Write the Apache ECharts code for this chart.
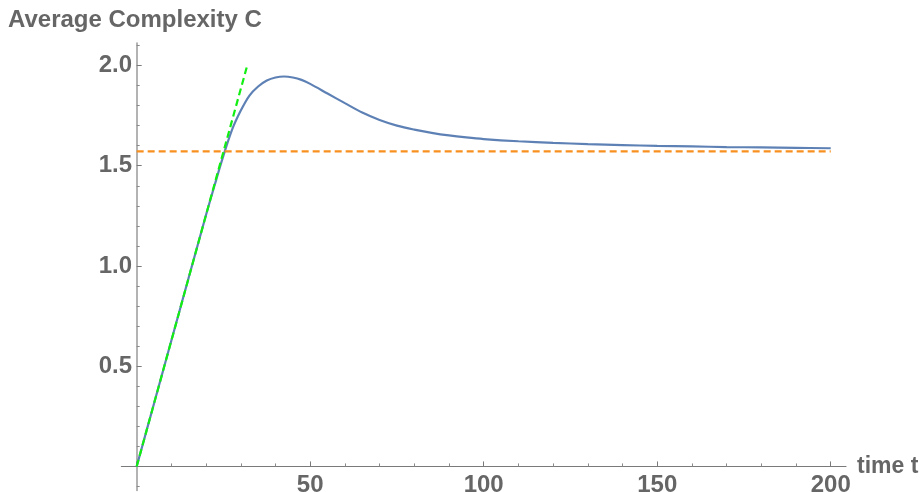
<!DOCTYPE html>
<html>
<head>
<meta charset="utf-8">
<script src="https://cdn.jsdelivr.net/npm/echarts@6/dist/echarts.min.js"></script>
<style>
html,body{margin:0;padding:0;background:#fff;}
#chart{width:924px;height:492px;}
</style>
</head>
<body>
<div id="chart"></div>
<script>
// Data
var timeT = [0,5,10,15,20,22.5,25,27.5,30,32.5,35,37.5,40,42.5,45,47.5,50,55,60,65,70,75,80,85,90,95,100,110,120,130,140,150,160,170,180,190,200];
var complexityC = [0,0.314,0.628,0.942,1.255,1.405,1.55,1.68,1.775,1.85,1.895,1.925,1.94,1.945,1.94,1.928,1.908,1.86,1.812,1.765,1.728,1.70,1.68,1.664,1.651,1.641,1.633,1.622,1.614,1.608,1.603,1.599,1.596,1.593,1.591,1.589,1.587];
var slopeT = [0, 31.7];
var slopeC = [0, 1.99];
var limitT = [0, 200];
var limitC = [1.571, 1.571];
var xMajorTicks = [0,50,100,150,200];
var xMinorTicks = [10,20,30,40,60,70,80,90,110,120,130,140,160,170,180,190];
var xTickLabels = [50,100,150,200];
var yMajorTicks = [0,0.5,1,1.5,2];
var yMinorTicks = [-0.1,0.1,0.2,0.3,0.4,0.6,0.7,0.8,0.9,1.1,1.2,1.3,1.4,1.6,1.7,1.8,1.9,2.1];
var yTickLabels = [0.5,1,1.5,2];

function pairs(xs, ys){ return xs.map(function(x,i){ return [x, ys[i]]; }); }

var FONT = 'Liberation Sans, Arial, sans-serif';
var xMin = -4.4, xMax = 204.4, yMin = -0.12, yMax = 2.112;

var chart = echarts.init(document.getElementById('chart'));
chart.setOption({
  animation:false,
  title:{
    text:'Average Complexity C', left:3, top:3,
    textStyle:{fontFamily:FONT, fontWeight:'bold', fontSize:24, color:'#666'}
  },
  grid:{left:121.4, right:78, top:43, bottom:1.5, outerBoundsMode:'none', containLabel:false},
  xAxis:[
    {type:'value', min:xMin, max:xMax, position:'bottom',
     axisLine:{show:true, onZero:true, onZeroAxisIndex:0, lineStyle:{color:'#7a7a7a', width:1.2}},
     axisTick:{show:true, inside:true, length:5, customValues:xMajorTicks, lineStyle:{color:'#7a7a7a', width:1}},
     axisLabel:{show:true, customValues:xTickLabels, margin:-17, fontFamily:FONT, fontWeight:'bold', fontSize:24, color:'#666'},
     splitLine:{show:false},
     name:'time t', nameLocation:'end', nameGap:11,
     nameTextStyle:{fontFamily:FONT, fontWeight:'bold', fontSize:23, color:'#666', verticalAlign:'middle'}
    },
    {type:'value', min:xMin, max:xMax, position:'bottom',
     axisLine:{show:true, onZero:true, onZeroAxisIndex:0, lineStyle:{color:'#7a7a7a', width:0, opacity:0}},
     axisTick:{show:true, inside:true, length:3, customValues:xMinorTicks, lineStyle:{color:'#8a8a8a', width:1}},
     axisLabel:{show:false},
     splitLine:{show:false}
    }
  ],
  yAxis:[
    {type:'value', min:yMin, max:yMax, position:'left',
     axisLine:{show:true, onZero:true, onZeroAxisIndex:0, lineStyle:{color:'#a0a0a0', width:1.6}},
     axisTick:{show:true, inside:true, length:5, customValues:yMajorTicks, lineStyle:{color:'#7a7a7a', width:1}},
     axisLabel:{show:true, customValues:yTickLabels, margin:-10.6, fontFamily:FONT, fontWeight:'bold', fontSize:24, color:'#666',
       formatter:function(v){ return Number(v).toFixed(1); }},
     splitLine:{show:false}
    },
    {type:'value', min:yMin, max:yMax, position:'left',
     axisLine:{show:true, onZero:true, onZeroAxisIndex:0, lineStyle:{opacity:0, width:0}},
     axisTick:{show:true, inside:true, length:3, customValues:yMinorTicks, lineStyle:{color:'#8a8a8a', width:1}},
     axisLabel:{show:false},
     splitLine:{show:false}
    }
  ],
  series:[
    {type:'line', name:'C', xAxisIndex:0, yAxisIndex:0, data:pairs(timeT, complexityC),
     showSymbol:false, smooth:0.35, lineStyle:{color:'#5e81b5', width:2.2}, z:2},
    {type:'line', name:'limit', xAxisIndex:0, yAxisIndex:0, data:pairs(limitT, limitC),
     showSymbol:false, lineStyle:{color:'#f7901e', width:2.2, type:[7,4]}, z:3},
    {type:'line', name:'slope', xAxisIndex:0, yAxisIndex:0, data:pairs(slopeT, slopeC),
     showSymbol:false, lineStyle:{color:'#11ee11', width:2.2, type:[7,4]}, z:4}
  ]
});
</script>
</body>
</html>
